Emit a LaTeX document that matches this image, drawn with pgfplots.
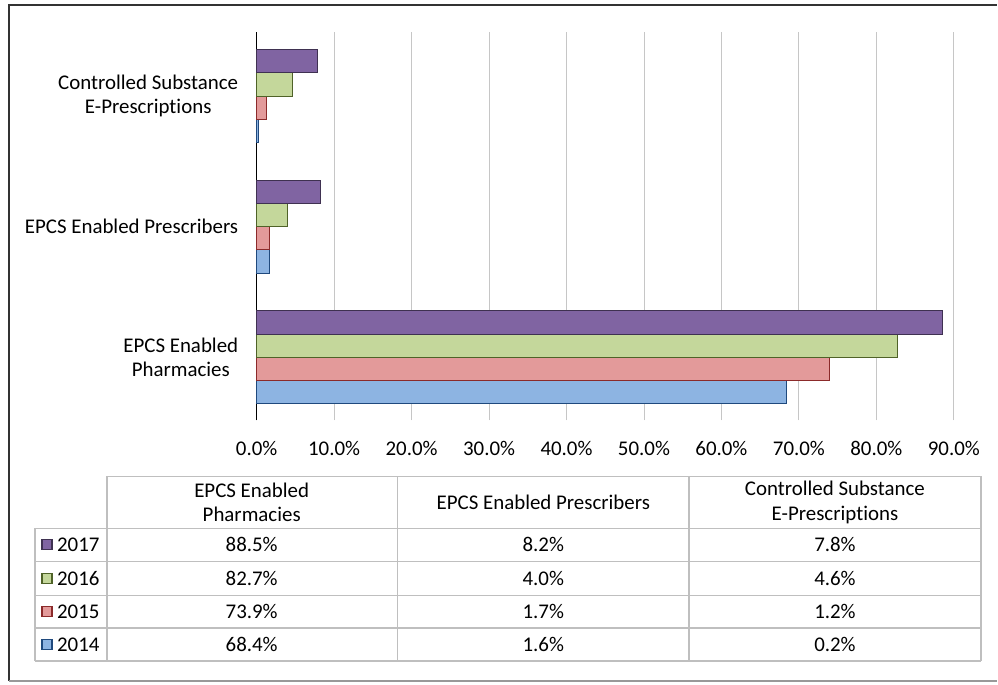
\documentclass[border=0pt]{standalone}
\usepackage{pgfplots}
\pgfplotsset{compat=1.18}
\usepackage{fontspec}
\setmainfont{Carlito}[Ligatures=NoCommon]
\definecolor{pF}{HTML}{8064A2}\definecolor{pD}{HTML}{3F3151}
\definecolor{gF}{HTML}{C4D79B}\definecolor{gD}{HTML}{4F6228}
\definecolor{rF}{HTML}{E39A9A}\definecolor{rD}{HTML}{8B2A2A}
\definecolor{bF}{HTML}{8DB4E2}\definecolor{bD}{HTML}{1F497D}
\definecolor{tbl}{HTML}{BFBFBF}
\begin{document}
\begin{tikzpicture}
\path (0,0) rectangle (998bp,685bp);
\begin{axis}[
  at={(257bp,264bp)}, anchor=south west,
  scale only axis, width=698bp, height=389bp,
  xmin=0, xmax=90, ymin=-0.483, ymax=2.49,
  xbar, bar width=0.178,
  axis lines*=left,
  x axis line style={draw=none},
  y axis line style={black, line width=1.3pt},
  xtick={0,10,...,90}, ytick={0,1,2},
  yticklabels={{EPCS Enabled\\Pharmacies},{EPCS Enabled Prescribers},{Controlled Substance\\E-Prescriptions}},
  major tick length=0pt,
  xmajorgrids, grid style={gray!45, line width=0.9pt},
  /pgf/number format/assume math mode=true,
  xticklabel={\pgfmathprintnumber[fixed,fixed zerofill,precision=1]{\tick}\%},
  xticklabel style={font=\fontsize{21}{25}\selectfont, yshift=-17bp},
  yticklabel style={font=\fontsize{21}{25}\selectfont, align=center, xshift=-15bp},
  clip=false,
]
\addplot[fill=bF, draw=bD, line width=0.9pt, bar shift=-0.267] coordinates {(68.4,0) (1.6,1) (0.2,2)};
\addplot[fill=rF, draw=rD, line width=0.9pt, bar shift=-0.089] coordinates {(73.9,0) (1.7,1) (1.2,2)};
\addplot[fill=gF, draw=gD, line width=0.9pt, bar shift=0.089] coordinates {(82.7,0) (4.0,1) (4.6,2)};
\addplot[fill=pF, draw=pD, line width=0.9pt, bar shift=0.267] coordinates {(88.5,0) (8.2,1) (7.8,2)};
\end{axis}
\begin{scope}[shift={(0bp,685bp)}, x=1bp, y=-1bp]
  % outer frame
  \draw[black!80, line width=2.5bp] (998,5) -- (9,5) -- (9,682);
  \draw[black!40, line width=2.5bp] (9,682) -- (998,682);
  % table grid
  \begin{scope}[tbl, line width=1.5bp]
    \draw (107,477) -- (982,477);
    \foreach \yy in {529,562,596,629,662} \draw (35,\yy) -- (982,\yy);
    \draw (35,529) -- (35,662);
    \foreach \xx in {107,398,690,982} \draw (\xx,477) -- (\xx,662);
  \end{scope}
  \begin{scope}[every node/.style={font=\fontsize{21}{25}\selectfont, align=center, inner sep=0pt}]
    \node at (252,503) {EPCS Enabled\\Pharmacies};
    \node at (544,503) {EPCS Enabled Prescribers};
    \node at (836,503) {Controlled Substance\\E-Prescriptions};
    % rows
    \foreach \yc/\yr/\a/\b/\c/\f/\d in {545.5/2017/88.5/8.2/7.8/pF/pD, 579/2016/82.7/4.0/4.6/gF/gD, 612.5/2015/73.9/1.7/1.2/rF/rD, 645.5/2014/68.4/1.6/0.2/bF/bD}{
      \draw[fill=\f, draw=\d, line width=1.2bp] (42,\yc-5) rectangle (52,\yc+5);
      \node[anchor=west] at (57,\yc) {\yr};
      \node at (252,\yc) {\a\%};
      \node at (544,\yc) {\b\%};
      \node at (836,\yc) {\c\%};
    }
  \end{scope}
\end{scope}
\end{tikzpicture}
\end{document}
